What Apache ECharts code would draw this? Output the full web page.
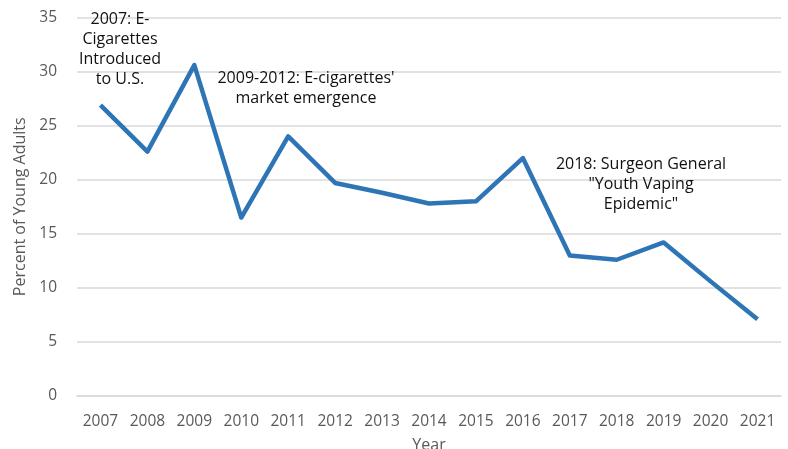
<!DOCTYPE html>
<html>
<head>
<meta charset="utf-8">
<script src="https://cdn.jsdelivr.net/npm/echarts@6/dist/echarts.min.js"></script>
<style>
  html, body { margin: 0; padding: 0; background: #fff; }
  #chart { width: 788px; height: 449px; }
</style>
</head>
<body>
<div id="chart"></div>
<script>
// Share of young adults who smoke, by year
const years = ['2007','2008','2009','2010','2011','2012','2013','2014','2015','2016','2017','2018','2019','2020','2021'];
const percentYoungAdults = [26.9, 22.6, 30.6, 16.5, 24.0, 19.7, 18.8, 17.8, 18.0, 22.0, 13.0, 12.6, 14.2, 10.6, 7.1];
const yTicks = { min: 0, max: 35, interval: 5 };

// Event notes placed over the plot
const notes = [
  { text: '2007: E-\nCigarettes\nIntroduced\nto U.S.', x: 120, y: 10 },
  { text: "2009-2012: E-cigarettes'\nmarket emergence", x: 306, y: 69 },
  { text: '2018: Surgeon General\n"Youth Vaping\nEpidemic"', x: 641, y: 155 }
];

const axisFont = '"Open Sans", "Liberation Sans", sans-serif';
const noteFont = '"Open Sans", "Noto Sans", sans-serif';

const chart = echarts.init(document.getElementById('chart'), null, { renderer: 'canvas' });
chart.setOption({
  animation: false,
  backgroundColor: '#ffffff',
  grid: { left: 77, right: 7, top: 17.5, bottom: 53, containLabel: false, outerBoundsMode: 'none' },
  xAxis: {
    type: 'category',
    data: years,
    boundaryGap: true,
    name: 'Year',
    nameLocation: 'middle',
    nameGap: 41,
    nameTextStyle: { fontFamily: axisFont, fontSize: 16, color: '#595959' },
    axisLine: { show: true, lineStyle: { color: '#d9d9d9', width: 1.5 } },
    axisTick: { show: false },
    axisLabel: { fontFamily: axisFont, fontSize: 15.5, color: '#595959', margin: 18, interval: 0 }
  },
  yAxis: {
    type: 'value',
    min: yTicks.min,
    max: yTicks.max,
    interval: yTicks.interval,
    name: 'Percent of Young Adults',
    nameLocation: 'middle',
    nameGap: 48,
    nameTextStyle: { fontFamily: axisFont, fontSize: 16, color: '#595959' },
    axisLine: { show: false },
    axisTick: { show: false },
    axisLabel: { fontFamily: axisFont, fontSize: 15.5, color: '#595959', margin: 20 },
    splitLine: { lineStyle: { color: '#d9d9d9', width: 1.5 } }
  },
  series: [{
    type: 'line',
    data: percentYoungAdults,
    symbol: 'none',
    lineStyle: { color: '#2E75B6', width: 4.5, join: 'round' },
    z: 3
  }],
  graphic: notes.map(n => ({
    type: 'text',
    x: n.x,
    y: n.y,
    z: 10,
    style: {
      text: n.text,
      fontFamily: noteFont,
      fontSize: 16,
      lineHeight: 19.7,
      fill: '#111111',
      align: 'center',
      verticalAlign: 'top'
    }
  }))
});
</script>
</body>
</html>
